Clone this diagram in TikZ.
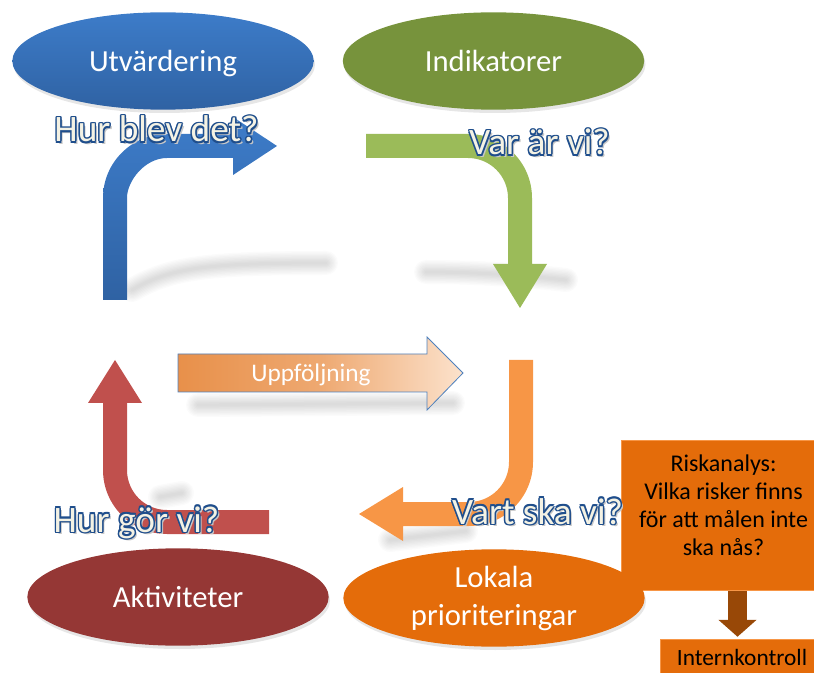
\documentclass[tikz,border=0pt]{standalone}
\usepackage{fontspec}
\setmainfont{Carlito}
\usetikzlibrary{shapes.geometric,shadows,arrows.meta,calc}

\definecolor{utvblue}{HTML}{3D7CC9}
\definecolor{utvdark}{HTML}{2F62A3}
\definecolor{indgreen}{HTML}{77933C}
\definecolor{arrgreen}{HTML}{9BBB59}
\definecolor{aktred}{HTML}{953735}
\definecolor{arrred}{HTML}{C0504D}
\definecolor{lokorange}{HTML}{E46C0A}
\definecolor{arrorange}{HTML}{F79646}
\definecolor{uppleft}{HTML}{E8904A}
\definecolor{uppright}{HTML}{FCE2CC}
\definecolor{uppline}{HTML}{4F81BD}
\definecolor{riskbrown}{HTML}{984807}
\definecolor{qline}{HTML}{1F4E8C}
\definecolor{qfill}{HTML}{F4F2E4}

% outlined question text
\newcommand{\wordart}[1]{%
  \rlap{\kern1.8pt\raisebox{-2pt}{\textcolor{black!22}{#1}}}%
  \foreach \dx/\dy in {1.1/0,-1.1/0,0/1.1,0/-1.1,.8/.8,-.8/.8,.8/-.8,-.8/-.8}{%
    \rlap{\kern\dx pt\raisebox{\dy pt}{\textcolor{qline}{#1}}}}%
  \textcolor{qfill}{#1}}

\tikzset{
  oval/.style={ellipse,inner sep=0pt,minimum width=226pt,minimum height=73pt,
    text=white,font=\fontsize{23}{28.5}\selectfont,
    drop shadow={opacity=0.2,shadow xshift=1pt,shadow yshift=-2.5pt}},
  question/.style={anchor=base,inner sep=0pt,font=\fontsize{28}{32}\selectfont},
  softshade/.style={line cap=round,draw=black,opacity=0.016},
  orangebox/.style={rectangle,fill=lokorange,draw=arrorange,line width=0.6pt,inner sep=0pt},
}

\begin{document}
\begin{tikzpicture}[x=0.75pt,y=-0.75pt]
\useasboundingbox (0,0) rectangle (814,673);

% soft shadows under the arrows
\foreach \w in {2,4,...,18}{
  \draw[softshade,line width=\w pt] (132,290) .. controls (170,268) and (205,263) .. (326,263);
  \draw[softshade,line width=\w pt] (426,272) .. controls (480,272) and (530,276) .. (566,280);
  \draw[softshade,line width=\w pt] (198,405) -- (453,403);
  \draw[softshade,line width=\w pt] (390,540) -- (466,531);
  \draw[softshade,line width=\w pt] (160,497) -- (182,493);
}

% Utvardering -> Indikatorer (blue)
\shade[top color=utvblue,bottom color=utvdark]
  (103,300) -- (103,198) .. controls (103,162.7) and (131.7,134) .. (167,134)
  -- (233,134) -- (233,117) -- (277,146) -- (233,175) -- (233,158) -- (167,158)
  .. controls (144.9,158) and (127,180.9) .. (127,198) -- (127,300) -- cycle;
% Indikatorer -> down (green)
\fill[arrgreen]
  (366,134) -- (468,134) .. controls (503.3,134) and (532,162.7) .. (532,198)
  -- (532,264) -- (547,264) -- (520,308) -- (493,264) -- (508,264) -- (508,198)
  .. controls (508,175.9) and (490.1,158) .. (468,158) -- (366,158) -- cycle;
% down -> left (orange)
\fill[arrorange]
  (509,360) -- (533,360) -- (533,462) .. controls (533,497.3) and (504.3,526) .. (469,526)
  -- (403,526) -- (403,541) -- (359,514) -- (403,487) -- (403,502) -- (469,502)
  .. controls (491.1,502) and (509,484.1) .. (509,462) -- cycle;
% Aktiviteter -> up (red)
\fill[arrred]
  (269,510) -- (167,510) .. controls (144.9,510) and (127,492.1) .. (127,470)
  -- (127,403) -- (142,403) -- (115,360) -- (88,403) -- (103,403) -- (103,470)
  .. controls (103,505.3) and (131.7,534) .. (167,534) -- (269,534) -- cycle;

% Uppfoljning
\shade[draw=uppline,line width=0.6pt,left color=uppleft,right color=uppright,
  middle color=uppleft!70!uppright]
  (178,354) -- (427,354) -- (427,337) -- (463,373) -- (427,410) -- (427,392)
  -- (178,392) -- cycle;
\node[text=white,font=\fontsize{19}{23}\selectfont] (upp) at (311,375) {Uppföljning};

% Riskanalys and Internkontroll
\node[orangebox,minimum width=145pt,minimum height=113pt] (risk) at (718.5,515.5) {};
\node[align=center,font=\fontsize{18}{21}\selectfont] (risktext) at (723.5,505)
  {Riskanalys:\\Vilka risker finns\\för att målen inte\\ska nås?};
\node[orangebox,minimum width=116pt,minimum height=26pt] (intk) at (737.5,656.5) {};
\node[font=\fontsize{17.5}{21}\selectfont] (intktext) at (742,657) {Internkontroll};
\draw[riskbrown,line width=14.25pt,-{Triangle[length=12.75pt 0 0,width=28pt 0 0]}]
  (intk.north |- risk.south) -- ($(intk.north)+(0,-2)$);

% the four ellipses
\node[oval,text depth=0pt,top color=utvblue,bottom color=utvdark] (utv) at (163,61) {Utvärdering};
\node[oval,fill=indgreen] (ind) at (493.5,61) {Indikatorer};
\node[oval,fill=aktred] (akt) at (178,597) {Aktiviteter};
\node[oval,fill=lokorange,align=center] (lok) at (494,598) {Lokala\\prioriteringar};

% questions
\node[question] (qutv) at (156.5,142) {\wordart{Hur blev det?}};
\node[question] (qind) at (539.5,155) {\wordart{Var är vi?}};
\node[question] (qlok) at (537.5,524) {\wordart{Vart ska vi?}};
\node[question] (qakt) at (136.5,532) {\wordart{Hur gör vi?}};
\end{tikzpicture}
\end{document}
